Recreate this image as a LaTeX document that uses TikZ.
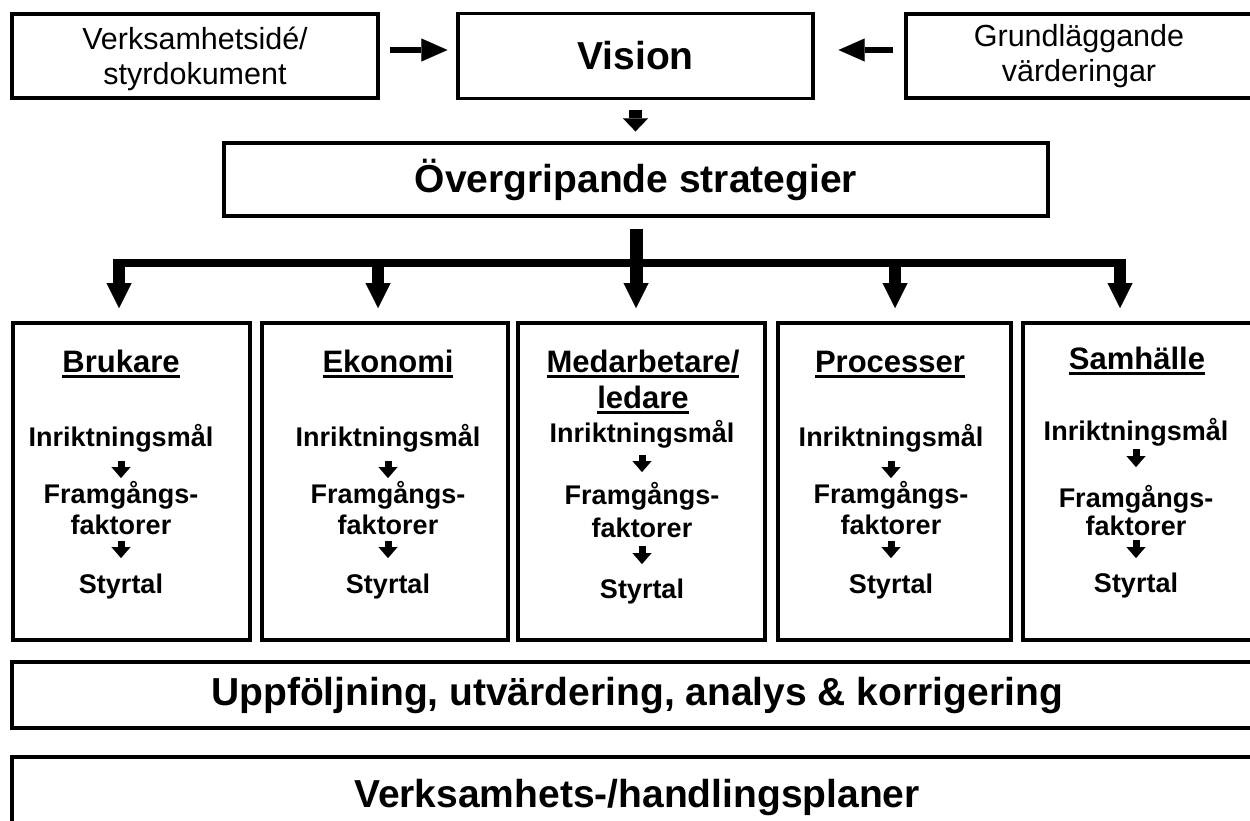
\documentclass[tikz,border=0pt]{standalone}
\usepackage{fontspec}
\setmainfont{Liberation Sans}
\usetikzlibrary{arrows.meta,calc}
\newcommand\myul[1]{\setbox0\hbox{#1}\rlap{\rule[-6pt]{\wd0}{3.2pt}}\box0}
\tikzset{
  boxA/.style={draw=black, line width=3.3pt, rectangle, inner sep=0pt},
  colB/.style={draw=black, line width=4pt, rectangle, inner sep=0pt},
  txtTop/.style={font=\fontsize{30.5}{35.5}\selectfont},
  txtBig/.style={font=\fontsize{39}{45}\selectfont\bfseries},
  txtHead/.style={font=\fontsize{31}{36}\selectfont\bfseries, inner sep=0pt, anchor=base},
  txtItem/.style={font=\fontsize{27}{31}\selectfont\bfseries, inner sep=0pt, anchor=base},
  arrTop/.style={line width=6pt, -{Triangle[width=23pt,length=26pt,line width=0.01pt]}},
  arrFat/.style={line width=13pt, -{Triangle[width=25pt,length=25pt,line width=0.01pt]}},
  arrShort/.style={line width=13pt, -{Triangle[width=25pt,length=13pt,line width=0.01pt]}},
  arrBranch/.style={line width=12pt, -{Triangle[width=25pt,length=25pt,line width=0.01pt]}},
  arrSmall/.style={line width=7pt, -{Triangle[width=19pt,length=11pt,line width=0.01pt]}},
}
\begin{document}
\begin{tikzpicture}[x=1pt,y=-1pt]
\useasboundingbox (0,0) rectangle (1250,820);
\fill[white] (0,0) rectangle (1250,820);
\clip (0,0) rectangle (1250,820);

% top row
\node[boxA, txtTop, minimum width=366pt, minimum height=84pt] (lbox) at (195,56)
  {\raisebox{-4pt}[\height][\depth]{\begin{tabular}{@{}c@{}}Verksamhetsidé/\\styrdokument\end{tabular}}};
\node[boxA, txtBig, minimum width=355pt, minimum height=85pt] (vision) at (635.5,56) {Vision};
\node[boxA, txtTop, minimum width=346pt, minimum height=84pt] (rbox) at (1079,56)
  {\raisebox{-1pt}[\height][\depth]{\begin{tabular}{@{}c@{}}Grundläggande\\värderingar\end{tabular}}};

\draw[arrTop, shorten <=10pt, shorten >=9pt] ([yshift=6pt]lbox.east) -- ([yshift=6pt]vision.west);
\draw[arrTop, shorten <=11pt, shorten >=24pt] ([yshift=6pt]rbox.west) -- ([yshift=6pt]vision.east);

% strategies
\node[boxA, txtBig, minimum width=824pt, minimum height=73pt] (strat) at (636,179.5) {Övergripande strategier};
\draw[arrShort, shorten <=9.5pt, shorten >=10pt] (vision.south) -- (vision.south |- strat.north);

% columns
\node[colB, minimum width=237pt, minimum height=317pt] (col1) at (131.5,481.5) {};
\node[colB, minimum width=246pt, minimum height=317pt] (col2) at (385,481.5) {};
\node[colB, minimum width=247pt, minimum height=317pt] (col3) at (641.5,481.5) {};
\node[colB, minimum width=233pt, minimum height=317pt] (col4) at (894.5,481.5) {};
\node[colB, minimum width=230pt, minimum height=317pt] (col5) at (1138,481.5) {};

% distribution bar and arrows
\coordinate (b1) at (119,263);
\coordinate (b2) at (378,263);
\coordinate (b4) at (895,263);
\coordinate (b5) at (1120,263);
\draw[line width=8pt] ($(b1)+(-6,0)$) -- ($(b5)+(6,0)$);
\draw[arrFat, shorten <=11pt, shorten >=13pt] (strat.south) -- (strat.south |- col3.north);
\draw[arrBranch, shorten >=13pt] ([yshift=4pt]b1) -- (b1 |- col1.north);
\draw[arrBranch, shorten >=13pt] ([yshift=4pt]b2) -- (b2 |- col2.north);
\draw[arrBranch, shorten >=13pt] ([yshift=4pt]b4) -- (b4 |- col4.north);
\draw[arrBranch, shorten >=13pt] ([yshift=4pt]b5) -- (b5 |- col5.north);

% column 1
\node[txtHead] (h1) at (121,372) {\myul{Brukare}};
\node[txtItem] (i1) at (121,446) {Inriktningsmål};
\node[txtItem] (f1) at (121,503) {\begin{tabular}[t]{@{}c@{}}Framgångs-\\faktorer\end{tabular}};
\node[txtItem] (s1) at (121,593) {Styrtal};
\draw[arrSmall] (i1.base |- 0,461) -- (i1.base |- 0,478);
\draw[arrSmall] (s1.base |- 0,541) -- (s1.base |- 0,558);

% column 2
\node[txtHead] (h2) at (388,372) {\myul{Ekonomi}};
\node[txtItem] (i2) at (388,446) {Inriktningsmål};
\node[txtItem] (f2) at (388,503) {\begin{tabular}[t]{@{}c@{}}Framgångs-\\faktorer\end{tabular}};
\node[txtItem] (s2) at (388,593) {Styrtal};
\draw[arrSmall] (i2.base |- 0,461) -- (i2.base |- 0,478);
\draw[arrSmall] (s2.base |- 0,541) -- (s2.base |- 0,558);

% column 3
\node[txtHead] (h3) at (643,372) {\begin{tabular}[t]{@{}c@{}}\myul{Medarbetare/}\\\myul{ledare}\end{tabular}};
\node[txtItem] (i3) at (642,442) {Inriktningsmål};
\node[txtItem, font=\fontsize{27}{33}\selectfont\bfseries] (f3) at (642,504) {\begin{tabular}[t]{@{}c@{}}Framgångs-\\faktorer\end{tabular}};
\node[txtItem] (s3) at (642,598) {Styrtal};
\draw[arrSmall] (i3.base |- 0,455) -- (i3.base |- 0,472);
\draw[arrSmall] (s3.base |- 0,546) -- (s3.base |- 0,564);

% column 4
\node[txtHead] (h4) at (890,372) {\myul{Processer}};
\node[txtItem] (i4) at (891,446) {Inriktningsmål};
\node[txtItem] (f4) at (891,503) {\begin{tabular}[t]{@{}c@{}}Framgångs-\\faktorer\end{tabular}};
\node[txtItem] (s4) at (891,593) {Styrtal};
\draw[arrSmall] (i4.base |- 0,461) -- (i4.base |- 0,478);
\draw[arrSmall] (s4.base |- 0,541) -- (s4.base |- 0,558);

% column 5
\node[txtHead] (h5) at (1137,369) {\myul{Samhälle}};
\node[txtItem] (i5) at (1136,440) {Inriktningsmål};
\node[txtItem, font=\fontsize{27}{28}\selectfont\bfseries] (f5) at (1136,507) {\begin{tabular}[t]{@{}c@{}}Framgångs-\\faktorer\end{tabular}};
\node[txtItem] (s5) at (1136,592) {Styrtal};
\draw[arrSmall] (i5.base |- 0,449) -- (i5.base |- 0,467);
\draw[arrSmall] (s5.base |- 0,540) -- (s5.base |- 0,558);

% bottom bars
\node[boxA, txtBig, minimum width=1250pt, minimum height=66pt] (upp) at (637,695) {Uppföljning, utvärdering, analys \& korrigering};
\node[boxA, txtBig, minimum width=1250pt, minimum height=80pt] (verk) at (637,797) {Verksamhets-/handlingsplaner};
\end{tikzpicture}
\end{document}
